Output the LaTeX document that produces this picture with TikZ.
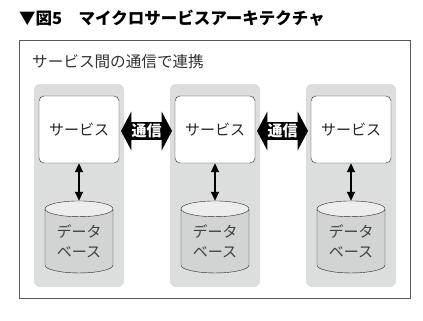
\documentclass[tikz,border=0pt]{standalone}
\usepackage{fontspec}
\setmainfont{Noto Sans CJK JP}
\usetikzlibrary{arrows.meta,shapes.geometric,shapes.arrows}
\definecolor{colbg}{HTML}{DCDDDD}
\definecolor{dbbody}{HTML}{D2D3D3}
\definecolor{dbtop}{HTML}{EDEDED}
\newcommand{\fsz}{\fontsize{15}{20}\selectfont}

\begin{document}
\begin{tikzpicture}[x=1pt,y=-1pt,col/.style={fill=colbg,rounded corners=6pt},svc/.style={draw=black!85,fill=white,rounded corners=5pt,minimum width=80pt,minimum height=67pt,font=\fsz,text=black!85},db/.style={cylinder,shape border rotate=90,aspect=0.35,draw=black!85,cylinder uses custom fill,cylinder body fill=dbbody,cylinder end fill=dbtop,minimum width=68pt,minimum height=72pt,align=center,font=\fsz,text=black!75,inner sep=0pt},link/.style={double arrow,fill=black,text=white,font=\fsz\bfseries,inner sep=1.5pt,double arrow head extend=10.5pt,double arrow tip angle=124,minimum height=51pt},acc/.style={{Triangle[length=9pt,width=8pt]}-{Triangle[length=9pt,width=8pt]},line width=1.7pt}]
\useasboundingbox (0,0) rectangle (423,321);
\node[anchor=west,font=\fontsize{16.5}{19}\selectfont\bfseries,inner sep=0pt](title) at (19,18){▼図5　マイクロサービスアーキテクチャ};
\draw[black!65,line width=0.8pt](19.5,40) rectangle (410,298);
\node[anchor=west,font=\fontsize{15.6}{20}\selectfont,text=black!80,inner sep=0pt](sub) at (32,62){サービス間の通信で連携};
\foreach \i/\cx in {1/79,2/215,3/351}{
  \fill[col](\cx-45,84) rectangle (\cx+45,287);
  \node[svc](s\i) at (\cx,129.5){サービス};
  \node[db](d\i) at (\cx,241){データ\\ベース};
  \draw[acc](s\i.south)--(d\i.north);
}
\node[link](c1) at (146.5,131){通信};
\node[link](c2) at (282.5,131){通信};
\end{tikzpicture}
\end{document}
